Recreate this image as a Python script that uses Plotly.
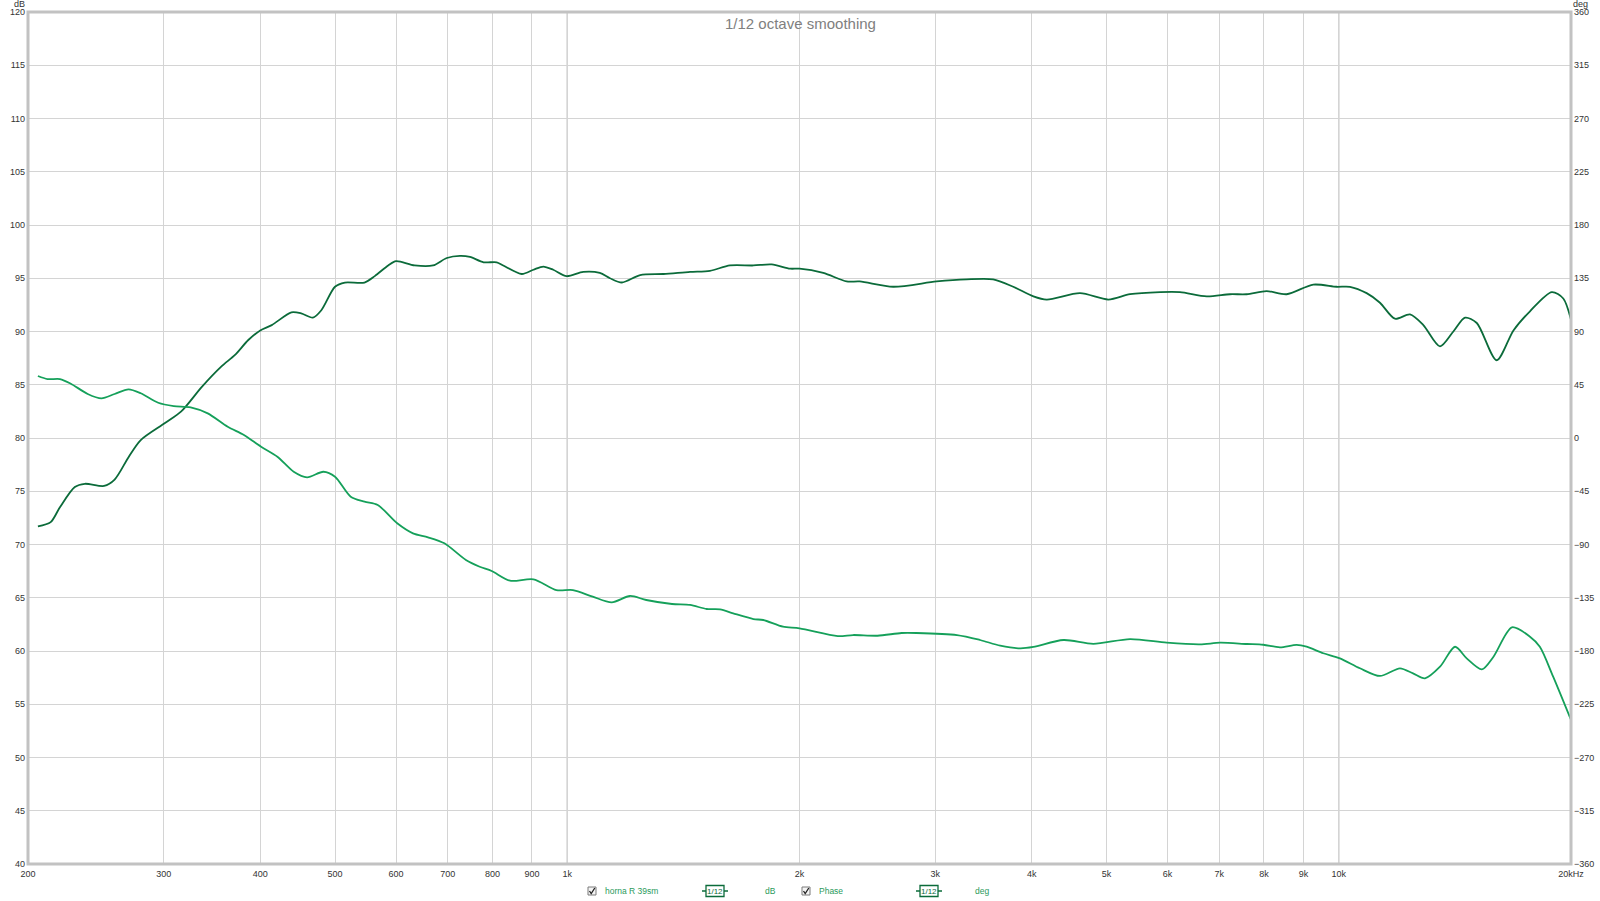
import plotly.graph_objects as go

# ---------------- data ----------------
freq_db = [206, 214, 220, 230, 237, 251, 259, 270, 280, 301, 316, 336, 356, 371, 386, 400, 414, 439, 452,
           468, 480, 500, 515, 546, 563, 586, 600, 634, 670, 698, 726, 748, 779, 810, 826, 873, 904, 931,
           959, 998, 1049, 1102, 1136, 1177, 1243, 1333, 1443, 1531, 1625, 1743, 1841, 1945, 2000, 2147,
           2302, 2394, 2646, 3011, 3294, 3565, 3785, 4020, 4183, 4620, 5027, 5364, 5867, 6226, 6743, 7228,
           7597, 8063, 8560, 9268, 9937, 10339, 10868, 11309, 11826, 12369, 12872, 13528, 14078, 14580,
           15098, 16021, 16844, 17696, 18885, 19545, 20000]
db_vals = [71.7, 72.1, 73.5, 75.4, 75.7, 75.5, 76.1, 78.2, 79.8, 81.4, 82.5, 84.8, 86.7, 87.8, 89.2, 90.1,
           90.6, 91.8, 91.7, 91.3, 92.0, 94.2, 94.6, 94.6, 95.2, 96.2, 96.6, 96.2, 96.2, 96.9, 97.1, 97.0,
           96.5, 96.5, 96.2, 95.4, 95.8, 96.1, 95.8, 95.2, 95.6, 95.5, 95.0, 94.6, 95.3, 95.4, 95.6, 95.7,
           96.2, 96.2, 96.3, 95.9, 95.9, 95.5, 94.7, 94.7, 94.2, 94.7, 94.9, 94.9, 94.2, 93.3, 93.0, 93.6,
           93.0, 93.5, 93.7, 93.7, 93.3, 93.5, 93.5, 93.8, 93.5, 94.4, 94.2, 94.2, 93.6, 92.7, 91.2, 91.6,
           90.6, 88.6, 90.0, 91.3, 90.8, 87.3, 90.1, 91.9, 93.7, 93.1, 91.1]

freq_phase = [206, 212, 220, 227, 239, 249, 259, 270, 280, 295, 309, 325, 342, 363, 381, 401, 421, 442, 460,
              483, 500, 524, 546, 568, 602, 631, 660, 693, 739, 770, 798, 843, 904, 968, 1017, 1079, 1142,
              1206, 1266, 1367, 1443, 1516, 1578, 1641, 1743, 1795, 1904, 2000, 2242, 2347, 2524, 2712, 2835,
              3200, 3429, 3641, 3866, 4020, 4397, 4807, 5364, 5985, 6609, 7020, 7597, 7983, 8390, 8818, 9085,
              9549, 10036, 10652, 11309, 12004, 12482, 12935, 13528, 14149, 14650, 15327, 15869, 16767,
              17696, 18224, 18963, 20000]
phase_vals = [52.4, 49.8, 49.8, 46.1, 37.2, 33.5, 37.2, 41.1, 37.8, 29.8, 27.0, 25.9, 20.8, 9.5, 2.5, -7.4,
              -15.8, -28.5, -33.2, -28.5, -32.7, -49.6, -53.8, -56.6, -72.1, -80.6, -83.9, -89.0, -103.1,
              -108.8, -112.4, -120.6, -119.4, -128.5, -128.5, -134.1, -138.9, -133.5, -136.9, -140.3, -141.1,
              -144.5, -144.8, -148.2, -153.0, -153.8, -159.5, -160.8, -167.4, -166.5, -167.1, -164.8, -164.8,
              -166.5, -170.7, -175.5, -177.8, -176.6, -170.7, -173.9, -169.9, -173.0, -174.4, -173.0, -174.1,
              -174.7, -176.9, -174.9, -176.4, -181.9, -186.2, -194.6, -201.1, -194.6, -198.9, -203.1, -193.3,
              -176.4, -186.2, -195.5, -184.8, -160.0, -167.9, -176.4, -201.7, -238.3]

x_tickvals = [200, 300, 400, 500, 600, 700, 800, 900, 1000, 2000, 3000, 4000, 5000, 6000, 7000, 8000,
              9000, 10000, 20000]
x_ticktext = ["200", "300", "400", "500", "600", "700", "800", "900", "1k", "2k", "3k", "4k", "5k", "6k",
              "7k", "8k", "9k", "10k", "20kHz"]
db_ticks = list(range(40, 121, 5))
deg_ticks = list(range(-360, 361, 45))

title_text = "1/12 octave smoothing"
legend_name_1 = "horna R 39sm"
legend_unit_1 = "dB"
legend_name_2 = "Phase"
legend_unit_2 = "deg"
smoothing_badge = "1/12"

# ---------------- layout geometry ----------------
W, H = 1600, 901
L, R, T, B = 28, 1571, 12, 864
PW, PH = R - L, B - T


def px(fx):
    return (fx - L) / PW


def py(fy):
    return (B - fy) / PH


DB_COLOR = "#0b6b3a"
PH_COLOR = "#15a05a"
LEG_COLOR = "#2a9a5c"
FONT = "Liberation Sans"

fig = go.Figure()
fig.add_trace(go.Scatter(x=freq_db, y=db_vals, mode="lines", line=dict(color=DB_COLOR, width=1.8, shape="spline",
                                                                       smoothing=0.8),
                         name=legend_name_1, yaxis="y", hoverinfo="skip"))
fig.add_trace(go.Scatter(x=freq_phase, y=phase_vals, mode="lines", line=dict(color=PH_COLOR, width=1.8,
                                                                             shape="spline", smoothing=0.8),
                         name=legend_name_2, yaxis="y2", hoverinfo="skip"))

shapes = []
# darker decade lines at 1k and 10k
for f in (1000, 10000):
    shapes.append(dict(type="line", xref="x", yref="paper", x0=f, x1=f, y0=0, y1=1,
                       line=dict(color="#8f8f8f", width=1), layer="below"))
# plot frame
shapes.append(dict(type="rect", xref="paper", yref="paper", x0=0, x1=1, y0=0, y1=1,
                   line=dict(color="#c2c2c2", width=3), layer="above"))

annotations = []
annotations.append(dict(text=title_text, xref="paper", yref="paper", x=px(800), y=py(23), showarrow=False,
                        font=dict(family=FONT, size=15, color="#808080"), xanchor="center", yanchor="middle"))
annotations.append(dict(text="dB", xref="paper", yref="paper", x=px(19), y=py(4), showarrow=False,
                        font=dict(family=FONT, size=9, color="#333"), xanchor="center", yanchor="middle"))
annotations.append(dict(text="deg", xref="paper", yref="paper", x=px(1580), y=py(4), showarrow=False,
                        font=dict(family=FONT, size=9, color="#333"), xanchor="center", yanchor="middle"))

# ---- bottom legend strip ----
LY = 891


def checkbox(cx):
    shapes.append(dict(type="rect", xref="paper", yref="paper", x0=px(cx - 4), x1=px(cx + 4),
                       y0=py(LY + 4), y1=py(LY - 4), line=dict(color="#7a7a7a", width=1), fillcolor="#f4f4f4"))
    shapes.append(dict(type="path", xref="paper", yref="paper",
                       path=f"M {px(cx - 2.5)},{py(LY)} L {px(cx - 0.8)},{py(LY + 2.5)} L {px(cx + 2.8)},{py(LY - 3)}",
                       line=dict(color="#222", width=1.3)))


def badge(cx):
    shapes.append(dict(type="line", xref="paper", yref="paper", x0=px(cx - 13), x1=px(cx + 13),
                       y0=py(LY), y1=py(LY), line=dict(color=DB_COLOR, width=1.5)))
    shapes.append(dict(type="rect", xref="paper", yref="paper", x0=px(cx - 9), x1=px(cx + 9),
                       y0=py(LY + 5.5), y1=py(LY - 5.5), line=dict(color=DB_COLOR, width=1.3), fillcolor="white"))
    annotations.append(dict(text=smoothing_badge, xref="paper", yref="paper", x=px(cx), y=py(LY), showarrow=False,
                            font=dict(family=FONT, size=8, color=DB_COLOR), xanchor="center", yanchor="middle"))


checkbox(592)
annotations.append(dict(text=legend_name_1, xref="paper", yref="paper", x=px(603), y=py(LY), showarrow=False,
                        font=dict(family=FONT, size=8.5, color=LEG_COLOR), xanchor="left", yanchor="middle"))
badge(715)
annotations.append(dict(text=legend_unit_1, xref="paper", yref="paper", x=px(770), y=py(LY), showarrow=False,
                        font=dict(family=FONT, size=8.5, color=LEG_COLOR), xanchor="center", yanchor="middle"))
checkbox(806)
annotations.append(dict(text=legend_name_2, xref="paper", yref="paper", x=px(817), y=py(LY), showarrow=False,
                        font=dict(family=FONT, size=8.5, color=LEG_COLOR), xanchor="left", yanchor="middle"))
badge(929)
annotations.append(dict(text=legend_unit_2, xref="paper", yref="paper", x=px(982), y=py(LY), showarrow=False,
                        font=dict(family=FONT, size=8.5, color=LEG_COLOR), xanchor="center", yanchor="middle"))

fig.update_layout(
    width=W, height=H,
    margin=dict(l=L, r=W - R, t=T, b=H - B, pad=0, autoexpand=False),
    paper_bgcolor="white", plot_bgcolor="white",
    showlegend=False,
    font=dict(family=FONT, size=9, color="#333"),
    xaxis=dict(type="log", range=[2.30103, 4.30103], tickvals=x_tickvals, ticktext=x_ticktext,
               showgrid=True, gridcolor="#d4d4d4", gridwidth=1, zeroline=False, showline=False,
               ticks="", tickfont=dict(family=FONT, size=9, color="#333"), ticklabelstandoff=3,
               automargin=False),
    yaxis=dict(range=[40, 120], tickvals=db_ticks, showgrid=True, gridcolor="#d4d4d4", gridwidth=1,
               zeroline=False, showline=False, ticks="", tickfont=dict(family=FONT, size=9, color="#333"),
               ticklabelstandoff=2, automargin=False),
    yaxis2=dict(range=[-360, 360], tickvals=deg_ticks, overlaying="y", side="right", showgrid=False,
                zeroline=False, showline=False, ticks="", tickfont=dict(family=FONT, size=9, color="#333"),
                ticklabelstandoff=2, automargin=False),
    shapes=shapes,
    annotations=annotations,
)

fig.write_html("out.html", config={"displayModeBar": False},
               post_script="document.body.style.margin='0';document.body.style.overflow='hidden';")
